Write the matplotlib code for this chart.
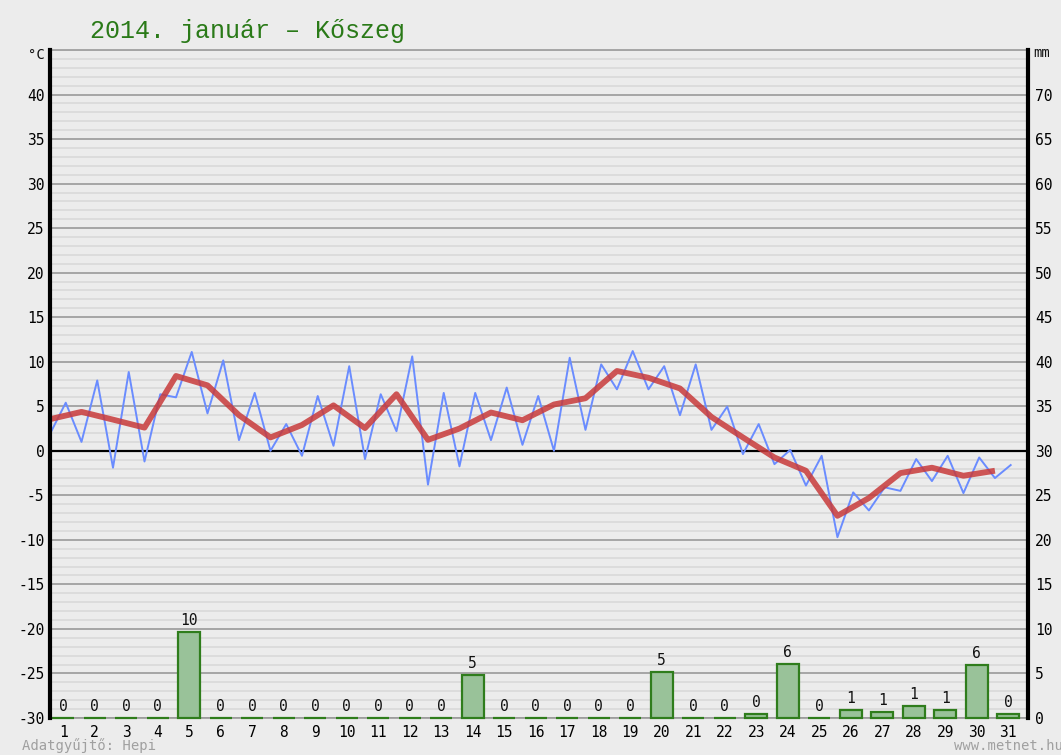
import numpy as np
import matplotlib
matplotlib.use("Agg")
import matplotlib.pyplot as plt
from matplotlib.ticker import MultipleLocator

# ---- data ----
days = list(range(1, 32))
# half-daily temperature readings (°C), two per day
temp_readings = [
    1.9, 5.4, 1.0, 7.9, -1.9, 8.85, -1.2, 6.35, 6.0, 11.1,
    4.2, 10.15, 1.2, 6.5, 0.0, 3.0, -0.56, 6.15, 0.56, 9.5,
    -0.93, 6.35, 2.2, 10.6, -3.8, 6.5, -1.75, 6.5, 1.2, 7.1,
    0.67, 6.15, 0.0, 10.45, 2.35, 9.7, 6.9, 11.2, 6.9, 9.5,
    4.0, 9.7, 2.35, 4.96, -0.37, 3.0, -1.5, 0.1, -3.9, -0.56,
    -9.7, -4.67, -6.7, -4.1, -4.5, -0.93, -3.4, -0.56, -4.75, -0.75,
    -3.06, -1.6,
]
# daily mean temperature (°C)
daily_mean = [
    3.55, 4.37, 3.5, 2.6, 8.4, 7.35, 4.0, 1.5, 2.9, 5.1,
    2.55, 6.35, 1.23, 2.5, 4.3, 3.43, 5.2, 5.9, 8.96, 8.2,
    7.0, 3.8, 1.5, -0.75, -2.24, -7.3, -5.3, -2.5, -1.9, -2.8,
    -2.24,
]
# daily precipitation (mm)
precip = [
    0, 0, 0, 0, 9.6, 0, 0, 0, 0, 0,
    0, 0, 0, 4.8, 0, 0, 0, 0, 0, 5.2,
    0, 0, 0.4, 6.1, 0, 0.9, 0.7, 1.3, 0.9, 5.9,
    0.4,
]
left_ticks = list(range(-30, 41, 5))
right_ticks = list(range(0, 71, 5))

title = "2014. január – Kőszeg"

# ---- figure ----
W, H, DPI = 1061, 755, 100
bg = "#ececec"
fig = plt.figure(figsize=(W / DPI, H / DPI), dpi=DPI, facecolor=bg)
ax = fig.add_axes([50 / W, 1 - 718 / H, (1028 - 50) / W, (718 - 50) / H])
ax.set_facecolor(bg)

font = "DejaVu Sans Mono"
YMIN, YMAX = -30, 45
XMAX = 31.05
ax.set_xlim(0, XMAX)
ax.set_ylim(YMIN, YMAX)

# grid
ax.yaxis.set_major_locator(MultipleLocator(5))
ax.yaxis.set_minor_locator(MultipleLocator(1))
ax.grid(which="minor", axis="y", color="#d9d9d9", linewidth=1.2, zorder=0)
ax.grid(which="major", axis="y", color="#9a9a9a", linewidth=1.2, zorder=0)
ax.axhline(0, color="black", linewidth=1.6, zorder=1)
ax.set_axisbelow(True)

# precipitation bars (mm offset so 0 mm sits on -30 °C)
bx = np.arange(len(days)) + 0.42
pr = np.array(precip)
bars = ax.bar(bx, pr, bottom=YMIN, width=0.7, color="#99c299",
              edgecolor="#2f7d1c", linewidth=1.6, zorder=6)
for b in bars:
    b.set_clip_on(False)
for x, v in zip(bx, pr):
    ax.text(x, YMIN + v + 0.45, f"{int(round(v))}", ha="center", va="bottom",
            fontsize=10.5, family=font, color="#111111", zorder=7)

# temperature lines
tx = np.arange(len(temp_readings)) * 0.5
ax.plot(tx, temp_readings, color="#6a8cff", linewidth=1.4, zorder=3)
mx = np.arange(len(daily_mean))
ax.plot(mx, daily_mean, color="#c83a3a", alpha=0.85, linewidth=4.2,
        solid_capstyle="butt", zorder=4)

# axes / spines
for s in ("left", "right"):
    ax.spines[s].set_linewidth(3)
    ax.spines[s].set_color("black")
    ax.spines[s].set_zorder(8)
for s in ("top", "bottom"):
    ax.spines[s].set_linewidth(1.2)
    ax.spines[s].set_color("#9a9a9a")
ax.spines["bottom"].set_zorder(5)

ax.set_yticks(left_ticks)
ax.set_yticklabels([str(t) for t in left_ticks], family=font, fontsize=10.5)
ax.tick_params(axis="y", which="both", length=0, pad=4)
ax.set_xticks(bx)
ax.set_xticklabels([str(d) for d in days], family=font, fontsize=10.5)
ax.tick_params(axis="x", which="both", length=0, pad=5)

ax2 = ax.twinx()
ax2.set_ylim(YMIN + 30, YMAX + 30)
ax2.set_yticks(right_ticks)
ax2.set_yticklabels([str(t) for t in right_ticks], family=font, fontsize=10.5)
ax2.tick_params(axis="y", which="both", length=0, pad=5)
for s in ax2.spines.values():
    s.set_visible(False)

# unit labels and title
fig.text(45 / W, 1 - 55 / H, "°C", ha="right", va="center", family=font,
         fontsize=10, color="#111111")
fig.text(1033 / W, 1 - 53 / H, "mm", ha="left", va="center", family=font,
         fontsize=10, color="#111111")
fig.text(248 / W, 1 - 31 / H, title, ha="center", va="center",
         family="Liberation Mono", fontsize=18, color="#2a7a18")
fig.text(22 / W, 1 - 746 / H, "Adatgyűjtő: Hepi", ha="left", va="center",
         family=font, fontsize=10, color="#a0a0a0")
fig.text(1063 / W, 1 - 746 / H, "www.metnet.hu", ha="right", va="center",
         family=font, fontsize=10, color="#a0a0a0")

fig.savefig("out.png", dpi=DPI, facecolor=bg)
